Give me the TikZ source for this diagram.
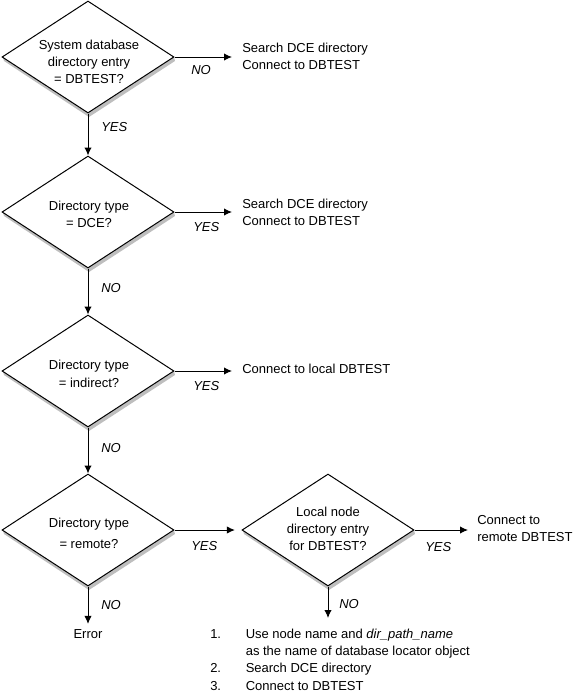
\documentclass[tikz,border=0pt]{standalone}
\usepackage{fontspec}
\setmainfont{Liberation Sans}
\usetikzlibrary{shapes.geometric,arrows.meta}
\definecolor{shadowgray}{RGB}{190,190,190}
\begin{document}
\begin{tikzpicture}[x=0.75bp,y=-0.75bp,
  every node/.style={font=\fontsize{9.75bp}{13bp}\selectfont, inner sep=0pt},
  dec/.style={diamond, draw, line width=0.75bp, fill=white, minimum width=129bp, minimum height=84bp},
  lbl/.style={font=\fontsize{9.75bp}{13bp}\selectfont\itshape, anchor=west},
  txt/.style={align=left, anchor=west},
  ctxt/.style={align=center},
  conn/.style={line width=0.75bp, -{Latex[length=6bp,width=5.5bp]}}]
\useasboundingbox (0,0) rectangle (573,692);
% shadows
\fill[shadowgray] (3,57) -- (4,61) -- (89,117) -- (175,61) -- (174,57) -- (88,113) -- cycle;
\fill[shadowgray] (3,212) -- (4,216) -- (89,272) -- (175,216) -- (174,212) -- (88,268) -- cycle;
\fill[shadowgray] (3,371) -- (4,375) -- (89,431) -- (175,375) -- (174,371) -- (88,427) -- cycle;
\fill[shadowgray] (3,530) -- (4,534) -- (89,590) -- (175,534) -- (174,530) -- (88,586) -- cycle;
\fill[shadowgray] (243,530) -- (244,534) -- (329,590) -- (415,534) -- (414,530) -- (328,586) -- cycle;
% decisions
\node[dec] (d1) at (88,57) {};
\node[dec] (d2) at (88,212) {};
\node[dec] (d3) at (88,371) {};
\node[dec] (d4) at (88,530) {};
\node[dec] (d5) at (328,530) {};
% decision texts
\node[ctxt] (t1) at (89,62) {System database\\directory entry\\= DBTEST?};
\node[ctxt] (t2) at (89,214.5) {Directory type\\= DCE?};
\node[ctxt] (t3) at (89,374) {Directory type\\= indirect?};
\node[ctxt, font=\fontsize{9.75bp}{15.75bp}\selectfont] (t4) at (89,533) {Directory type\\= remote?};
\node[ctxt] (t5) at (328,529) {Local node\\directory entry\\for DBTEST?};
% outcomes
\coordinate (e1) at (232,57);
\draw[conn] (d1.east) -- (e1);
\node[txt] (r1) at (242,56.5) {Search DCE directory\\Connect to DBTEST};
\node[lbl] (n1) at (191,70) {NO};
\draw[conn] (d1.south) -- (d2.north);
\node[lbl] (y1) at (101,127) {YES};

\coordinate (e2) at (232,212);
\draw[conn] (d2.east) -- (e2);
\node[txt] (r2) at (242,212.5) {Search DCE directory\\Connect to DBTEST};
\node[lbl] (y2) at (193,227) {YES};
\draw[conn] (d2.south) -- (d3.north);
\node[lbl] (n2) at (101,288) {NO};

\coordinate (e3) at (232,371);
\draw[conn] (d3.east) -- (e3);
\node[txt] (r3) at (242,369) {Connect to local DBTEST};
\node[lbl] (y3) at (193,386) {YES};
\draw[conn] (d3.south) -- (d4.north);
\node[lbl] (n3) at (101,448) {NO};

\draw[conn, shorten >=5] (d4.east) -- (d5.west);
\node[lbl] (y4) at (191,546) {YES};
\node (err) at (88,634) {Error};
\draw[conn, shorten >=4] (d4.south) -- (err.north);
\node[lbl] (n4) at (101,605) {NO};

\coordinate (e5) at (468,530);
\draw[conn] (d5.east) -- (e5);
\node[txt] (r5) at (477,528.5) {Connect to\\remote DBTEST};
\node[lbl] (y5) at (425,547) {YES};
\coordinate (e6) at (328,618);
\draw[conn] (d5.south) -- (e6);
\node[lbl] (n5) at (339,604) {NO};
\node[anchor=north west] (list) at (210,625.6) {%
  \begin{tabular}{@{}r@{\hspace{18.5bp}}l@{}}
  1. & Use node name and \textit{dir\_path\_name}\\
     & as the name of database locator object\\
  2. & Search DCE directory\\
  3. & Connect to DBTEST
  \end{tabular}};
\end{tikzpicture}
\end{document}
